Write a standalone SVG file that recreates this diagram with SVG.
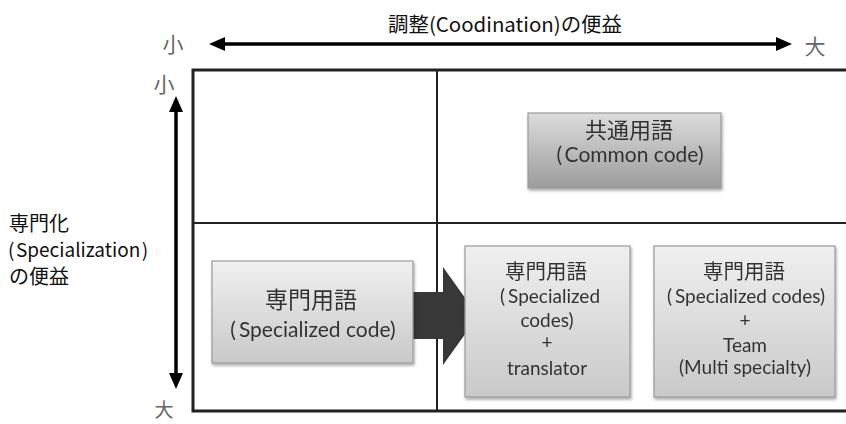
<svg xmlns="http://www.w3.org/2000/svg" width="846" height="424" viewBox="0 0 846 424">
  <style>
    .jp { font-family: "Noto Sans CJK JP", "Noto Sans", sans-serif; fill: #111; }
    .axis { font-family: "Noto Sans CJK JP", sans-serif; font-size: 21px; fill: #666; text-anchor: middle; }
    .box { stroke: #9a9a9a; stroke-width: 1.2; }
    .bt { font-family: Lato, "Noto Sans", sans-serif; font-size: 19px; fill: #333; text-anchor: middle; }
    .bj { font-family: "Noto Sans CJK JP", sans-serif; font-size: 20.5px; fill: #333; text-anchor: middle; }
    .grid { stroke: #222; fill: none; }
  </style>
  <defs>
    <linearGradient id="light" x1="0" y1="0" x2="0" y2="1">
      <stop offset="0" stop-color="#f0f0f0"/>
      <stop offset="1" stop-color="#c9c9c9"/>
    </linearGradient>
    <linearGradient id="dark" x1="0" y1="0" x2="0" y2="1">
      <stop offset="0" stop-color="#dcdcdc"/>
      <stop offset="1" stop-color="#9c9c9c"/>
    </linearGradient>
    <filter id="shadow" x="-10%" y="-10%" width="120%" height="130%">
      <feDropShadow dx="1" dy="2" stdDeviation="1.5" flood-color="#000" flood-opacity="0.35"/>
    </filter>
  </defs>

  <!-- quadrant frame -->
  <g id="frame">
    <path class="grid" stroke-width="3" d="M850,70 H193 V411 H850"/>
    <line class="grid" stroke-width="2" x1="437" y1="70" x2="437" y2="411"/>
    <line class="grid" stroke-width="2" x1="193" y1="223" x2="850" y2="223"/>
  </g>

  <!-- axes and the shift arrow -->
  <g id="connectors">
    <g id="axis-x">
      <line x1="222" y1="44" x2="779" y2="44" stroke="#000" stroke-width="3.5"/>
      <polygon points="209,44 225,37 225,51" fill="#000"/>
      <polygon points="792,44 776,37 776,51" fill="#000"/>
    </g>
    <g id="axis-y">
      <line x1="176" y1="110" x2="176" y2="375" stroke="#000" stroke-width="3.5"/>
      <polygon points="176,96 169,112 183,112" fill="#000"/>
      <polygon points="176,389 169,373 183,373" fill="#000"/>
    </g>
    <polygon id="shift-arrow" points="408,292 443,292 443,267 478,316 443,365 443,339 408,339" fill="#383838"/>
  </g>

  <g id="labels">
    <text class="jp" x="505" y="32" font-size="20" text-anchor="middle" textLength="234" lengthAdjust="spacingAndGlyphs">調整(Coodination)の便益</text>
    <text class="axis" x="173" y="52">小</text>
    <text class="axis" x="815" y="54">大</text>
    <text class="axis" x="164" y="92">小</text>
    <text class="axis" x="164" y="417" style="font-size:19px">大</text>
    <text class="jp" x="9" y="231" font-size="20">専門化</text>
    <text class="jp" x="8" y="257" font-size="19">(<tspan dx="1.5">Specialization</tspan><tspan dx="1.5">)</tspan></text>
    <text class="jp" x="9" y="284" font-size="20">の便益</text>
  </g>

  <g id="common-code" filter="url(#shadow)">
    <rect class="box" x="528" y="113" width="193" height="75" fill="url(#dark)"/>
    <text class="bj" x="629" y="138" style="font-size:22px">共通用語</text>
    <text class="bt" x="630" y="162" style="font-size:21px">(<tspan dx="3">Common code)</tspan></text>
  </g>

  <g id="specialized-code" filter="url(#shadow)">
    <rect class="box" x="212" y="261" width="201" height="102" fill="url(#light)"/>
    <text class="bj" x="311" y="308" style="font-size:23px">専門用語</text>
    <text class="bt" x="313" y="337" style="font-size:21px">(<tspan dx="3">Specialized code)</tspan></text>
  </g>

  <g id="translator" filter="url(#shadow)">
    <rect class="box" x="465" y="246" width="165" height="151" fill="url(#light)"/>
    <text class="bj" x="546" y="279">専門用語</text>
    <text class="bt" x="550" y="303">(<tspan dx="3">Specialized</tspan></text>
    <text class="bt" x="547" y="327">codes)</text>
    <text class="bt" x="547" y="349">+</text>
    <text class="bt" x="547" y="375">translator</text>
  </g>

  <g id="team" filter="url(#shadow)">
    <rect class="box" x="654" y="246" width="181" height="151" fill="url(#light)"/>
    <text class="bj" x="744" y="279">専門用語</text>
    <text class="bt" x="746" y="303">(<tspan dx="3">Specialized codes)</tspan></text>
    <text class="bt" x="745" y="327">+</text>
    <text class="bt" x="745" y="352">Team</text>
    <text class="bt" x="745" y="374">(Multi specialty)</text>
  </g>
</svg>
